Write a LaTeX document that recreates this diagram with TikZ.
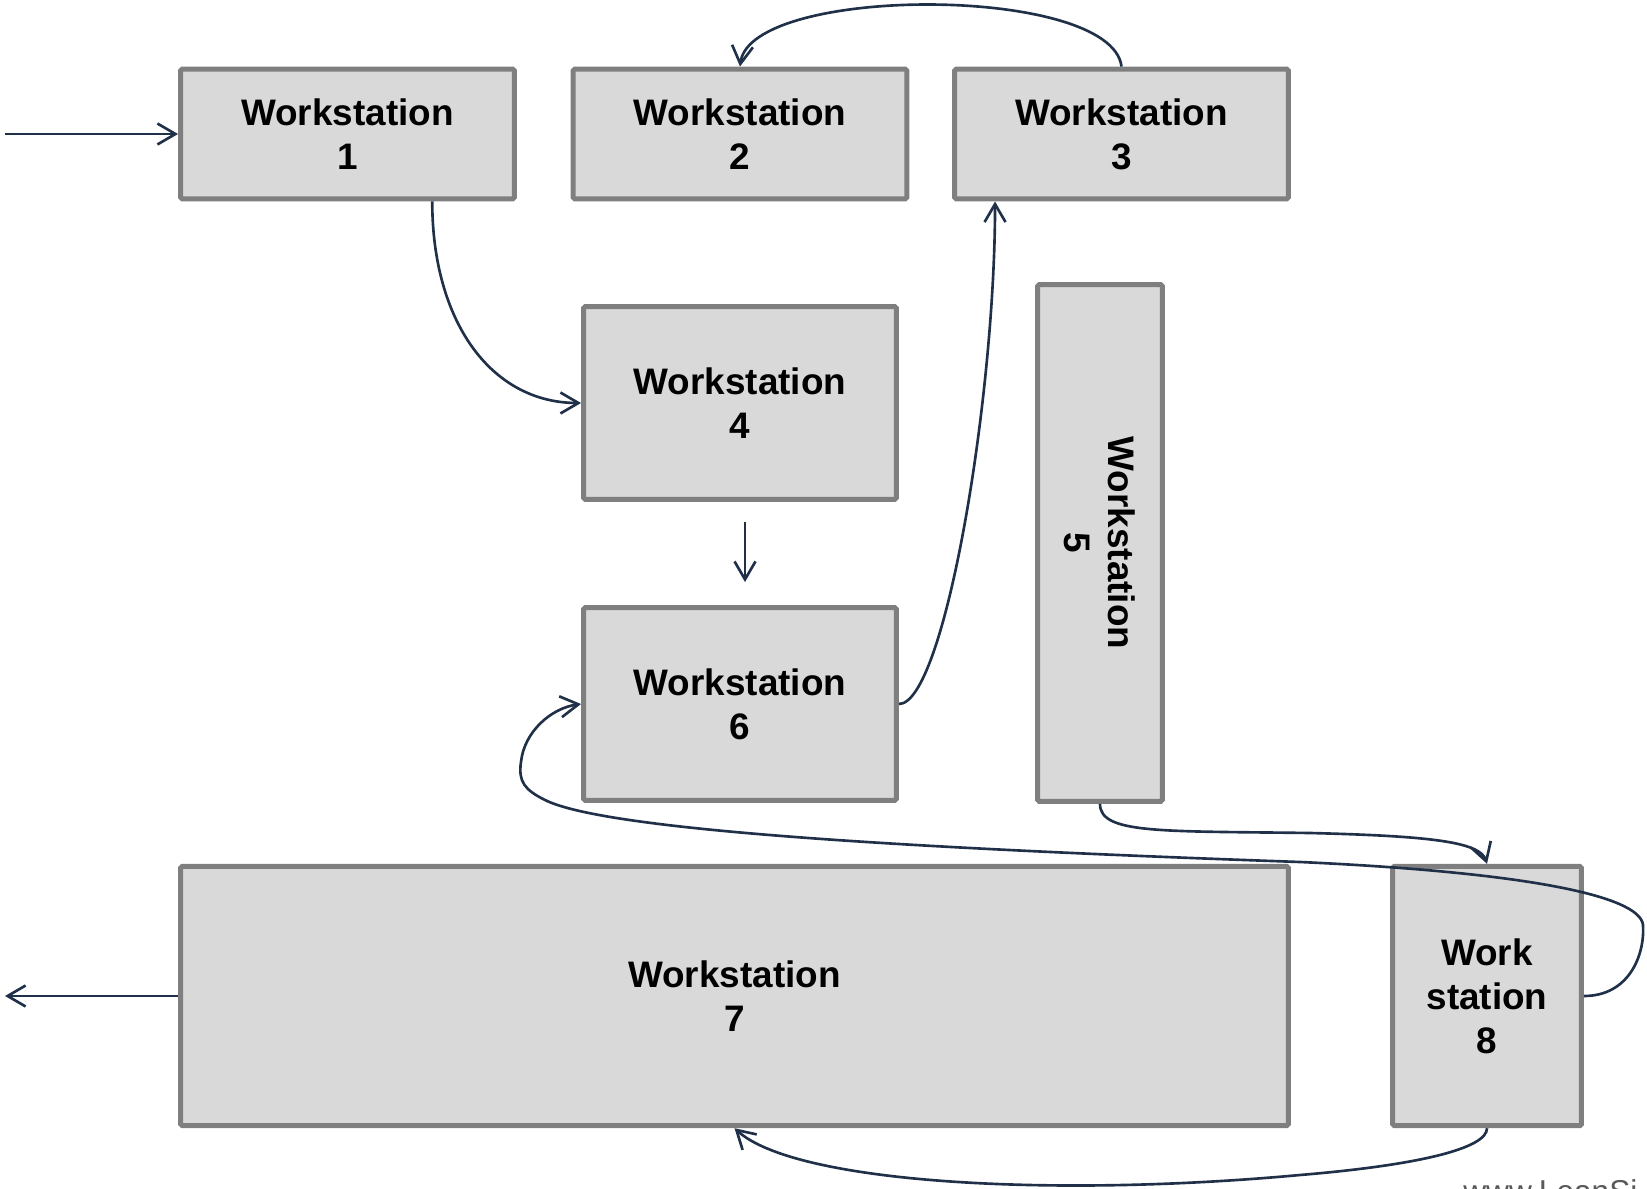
\documentclass[tikz,border=0pt]{standalone}
\usepackage{xcolor}
\usepackage{fontspec}
\setmainfont{Liberation Sans}
\usepackage{tikz}
\usetikzlibrary{arrows.meta,calc}
\definecolor{boxFill}{HTML}{D9D9D9}
\definecolor{boxEdge}{HTML}{7F7F7F}
\definecolor{flowNavy}{HTML}{1F3048}
\definecolor{markGray}{HTML}{595959}

\begin{document}
\begin{tikzpicture}[x=0.02cm,y=-0.02cm]

        \tikzset{
            station/.style={
                draw=boxEdge,
                fill=boxFill,
                line width=0.1cm,
                rounded corners=1pt,
                inner sep=0pt,
                align=center,
                font=\bfseries\fontsize{21}{25}\selectfont
            },
            flow/.style={
                draw=flowNavy,
                line width=1.5pt,
                -{Straight Barb[length=0.36cm,width=0.42cm]}
            }
        }

        \newcommand{\Station}[6][]{
            \node[station, minimum width=#4, minimum height=#5, #1] (#2) at (#3) {#6};
        }

        \useasboundingbox (0,0) rectangle (1647,1189);

        \Station{w1}{347.5,134}{6.68cm}{2.6cm}{Workstation\\1}
        \Station{w2}{740,134}{6.68cm}{2.6cm}{Workstation\\2}
        \Station{w3}{1121.5,134}{6.68cm}{2.6cm}{Workstation\\3}
        \Station{w4}{740,403}{6.26cm}{3.86cm}{Workstation\\4}
        \Station{w6}{740,704}{6.26cm}{3.86cm}{Workstation\\6}
        \Station[rotate=-90]{w5}{1100,543}{10.34cm}{2.5cm}{Workstation\\5}
        \Station{w7}{734.5,996}{22.16cm}{5.19cm}{Workstation\\7}
        \Station{w8}{1487,996}{3.78cm}{5.19cm}{Work\\station\\8}

        \coordinate (inlet) at (5,134);
        \coordinate (outlet) at (5,996);

        \draw[flow] (inlet) -- (w1.west);
        \draw[flow] ($(w1.south)!0.5!(w1.south east)$) .. controls +(0,120) and +(-90,0) .. (w4.west);
        \draw[flow] ([xshift=0.1cm,yshift=-0.4cm]w4.south) -- ([xshift=0.1cm,yshift=0.46cm]w6.north);
        \draw[flow] (w6.east) .. controls +(45,0) and +(0,200) .. ($(w3.south west)+(43,0)$);
        \draw[flow] (w3.north) .. controls +(-10,-82) and +(10,-82) .. (w2.north);
        % w5 is turned, so its east anchor sits at the bottom
        \draw[flow] (w5.east) .. controls +(0,30) and +(-150,-2) .. (1310,833)
            .. controls +(120,3) and +(-7,-22) .. (w8.north);
        \draw[flow] (w8.east) .. controls +(45,0) and +(2,30) .. (1643,925)
            .. controls +(-3,-30) and +(220,10) .. (1300,862)
            .. controls +(-400,-14) and +(60,30) .. (545,800)
            .. controls +(-20,-10) and +(-3,20) .. (521,762)
            .. controls +(3,-30) and +(-30,4) .. (w6.west);
        \draw[flow] (w8.south) .. controls +(0,20) and +(120,-10) .. (1300,1175)
            .. controls +(-250,23) and +(60,55) .. (w7.south);
        \draw[flow] (w7.west) -- (outlet);

        \begin{scope}
            \clip (0,0) rectangle (1647,1189);
            \node[anchor=base west, inner sep=0pt, text=markGray, font=\fontsize{18}{18}\selectfont] (mark) at (1463,1202) {www.LeanSi};
        \end{scope}

\end{tikzpicture}
\end{document}
